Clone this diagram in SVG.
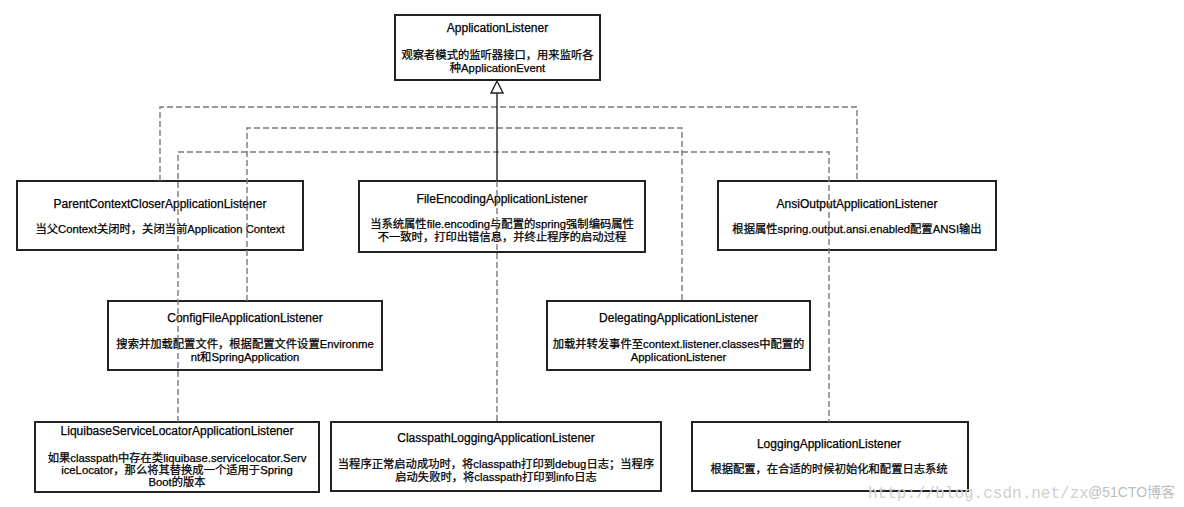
<svg xmlns="http://www.w3.org/2000/svg" width="1184" height="507" viewBox="0 0 1184 507">
<style>
.box{fill:#fff;stroke:#222;stroke-width:2}
text{font-family:"Liberation Sans","Noto Sans CJK SC",sans-serif;font-size:12px;fill:#000;stroke:#000;stroke-width:0.25;text-anchor:middle}
text.d{font-size:11.3px}
.dash{fill:none;stroke:#7a7a7a;stroke-width:1.4;stroke-dasharray:6 3}
.solid{fill:none;stroke:#222;stroke-width:1.4}
text.wm{font-family:"Liberation Mono",monospace;font-size:16px;fill:#cfcfcf;stroke:none;text-anchor:start}
text.wm2{font-family:"Liberation Sans","Noto Sans CJK SC",sans-serif;font-size:14px;fill:#bdbdbd;stroke:none;text-anchor:start}
</style>
<rect width="1184" height="507" fill="#fff"/>
<g id="applicationListener">
<rect class="box" x="395" y="15" width="205" height="65"/>
<text x="497.5" y="32">ApplicationListener</text>
<text class="d" x="497.5" y="59">观察者模式的监听器接口，用来监听各</text>
<text class="d" x="497.5" y="72">种ApplicationEvent</text>
</g>
<g id="parentContextCloser">
<rect class="box" x="17" y="181" width="286" height="69"/>
<text x="160" y="208">ParentContextCloserApplicationListener</text>
<text class="d" x="160" y="233">当父Context关闭时，关闭当前Application Context</text>
</g>
<g id="fileEncoding">
<rect class="box" x="359" y="181" width="286" height="71"/>
<text x="502" y="203">FileEncodingApplicationListener</text>
<text class="d" x="502" y="228">当系统属性file.encoding与配置的spring强制编码属性</text>
<text class="d" x="502" y="241">不一致时，打印出错信息，并终止程序的启动过程</text>
</g>
<g id="ansiOutput">
<rect class="box" x="718" y="181" width="278" height="69"/>
<text x="857" y="208">AnsiOutputApplicationListener</text>
<text class="d" x="857" y="233">根据属性spring.output.ansi.enabled配置ANSI输出</text>
</g>
<g id="configFile">
<rect class="box" x="108" y="301" width="274" height="69"/>
<text x="245" y="322">ConfigFileApplicationListener</text>
<text class="d" x="245" y="348">搜索并加载配置文件，根据配置文件设置Environme</text>
<text class="d" x="245" y="361">nt和SpringApplication</text>
</g>
<g id="delegating">
<rect class="box" x="547" y="301" width="263" height="69"/>
<text x="678.5" y="322">DelegatingApplicationListener</text>
<text class="d" x="678.5" y="348">加载并转发事件至context.listener.classes中配置的</text>
<text class="d" x="678.5" y="361">ApplicationListener</text>
</g>
<g id="liquibase">
<rect class="box" x="35" y="422" width="284" height="70"/>
<text x="177" y="435">LiquibaseServiceLocatorApplicationListener</text>
<text class="d" x="177" y="462">如果classpath中存在类liquibase.servicelocator.Serv</text>
<text class="d" x="177" y="474">iceLocator，那么将其替换成一个适用于Spring</text>
<text class="d" x="177" y="486">Boot的版本</text>
</g>
<g id="classpathLogging">
<rect class="box" x="331" y="422" width="330" height="69"/>
<text x="496" y="442">ClasspathLoggingApplicationListener</text>
<text class="d" x="496" y="468">当程序正常启动成功时，将classpath打印到debug日志；当程序</text>
<text class="d" x="496" y="481">启动失败时，将classpath打印到info日志</text>
</g>
<g id="logging">
<rect class="box" x="692" y="422" width="276" height="69"/>
<text x="829" y="448">LoggingApplicationListener</text>
<text class="d" x="829" y="473">根据配置，在合适的时候初始化和配置日志系统</text>
</g>
<g id="connectors">
<path class="dash" d="M160,181 V107 H857 V181"/>
<path class="dash" d="M247,301 V128 H682 V301"/>
<path class="dash" d="M178,422 V152 H829 V422"/>
<path class="dash" d="M497,181 V422"/>
<path class="solid" d="M497,93 V181"/>
<path d="M497,81 L503,93 L491,93 Z" fill="#fff" stroke="#222" stroke-width="1.4"/>
</g>
<g id="watermark">
<text class="wm" x="868" y="498">http://blog.csdn.net/zx</text>
<text class="wm2" x="1088" y="497">@51CTO博客</text>
</g>
</svg>
